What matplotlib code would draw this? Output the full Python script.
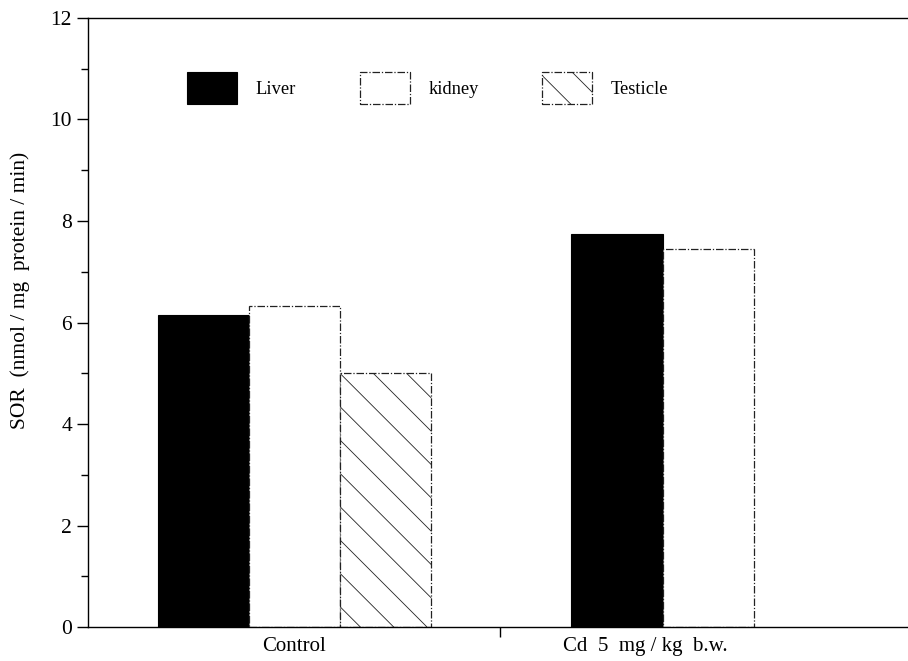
import matplotlib
matplotlib.use("Agg")
import matplotlib.pyplot as plt
import numpy as np

groups = ["Control", "Cd  5  mg / kg  b.w."]
series = ["Liver", "kidney", "Testicle"]
liver = [6.15, 7.75]
kidney = [6.32, 7.45]
testicle = [5.0, np.nan]

plt.rcParams['font.family'] = ['Liberation Serif', 'DejaVu Serif']
plt.rcParams['hatch.linewidth'] = 0.6
plt.rcParams['hatch.color'] = '#7a7a7a'

fig = plt.figure(figsize=(9.08, 6.61), dpi=100)
ax = fig.add_axes([0.0969, 0.0514, 0.9031, 0.9214])

x = np.array([0.0, 1.0])
w = 0.22
ax.bar(x - w, liver, w, color='black', edgecolor='black', linewidth=0.8, label=series[0])
ax.bar(x, kidney, w, color='white', edgecolor='#222222', linewidth=0.9,
       linestyle=(0, (6, 1.5, 1, 1.5)), label=series[1])
ax.bar(x + w, testicle, w, color='white', edgecolor='#222222', linewidth=0.9,
       linestyle=(0, (6, 1.5, 1, 1.5)), hatch='\\', label=series[2])

ax.set_xlim(-0.498, 1.483)
ax.set_ylim(0, 12)
ax.set_yticks(np.arange(0, 13, 2))
ax.set_yticks(np.arange(1, 12, 2), minor=True)
ax.set_xticks([0, 0.848])
ax.set_xticklabels(groups, fontsize=15)
ax.set_xticks([0.498], minor=True)
ax.tick_params(axis='x', which='major', length=0, pad=7)
ax.tick_params(axis='x', which='minor', length=7, direction='out', width=1)
ax.tick_params(axis='y', which='major', length=8, direction='out', labelsize=15.5, width=1)
ax.tick_params(axis='y', which='minor', length=5, direction='out', width=1)
ax.set_ylabel("SOR  (nmol / mg  protein / min)", fontsize=15.5)
ax.yaxis.set_label_coords(-0.071, 0.553)

ax.spines['right'].set_visible(False)
for s in ['left', 'bottom', 'top']:
    ax.spines[s].set_linewidth(1.0)

leg = ax.legend(ncol=3, frameon=False, loc='upper left', bbox_to_anchor=(0.101, 0.939),
                fontsize=13.3, handlelength=2.7, handleheight=2.3, handletextpad=1.0,
                columnspacing=3.45)

fig.savefig("out.png", dpi=100)
